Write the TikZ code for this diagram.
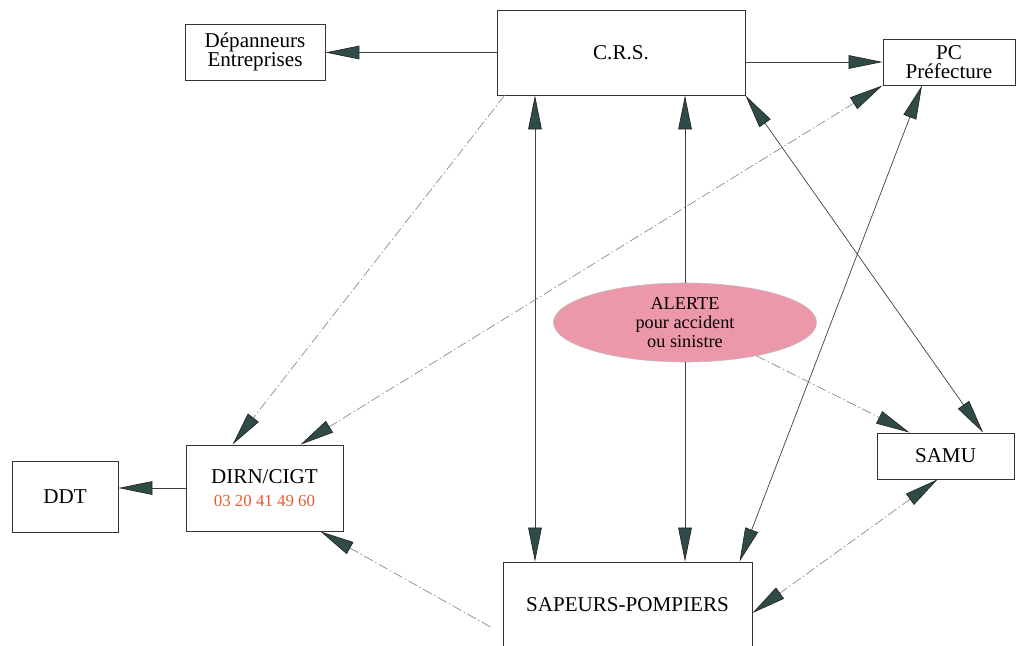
\documentclass[tikz,border=0pt]{standalone}
\usepackage{fontspec}
\setmainfont{Liberation Serif}
\usetikzlibrary{
    arrows.meta,
    shapes.geometric,
    calc
}
\definecolor{tipgreen}{RGB}{47,75,71}
\definecolor{alertpink}{RGB}{237,152,170}
\definecolor{telred}{RGB}{235,90,50}

\begin{document}
\begin{tikzpicture}[x=0.025cm, y=0.025cm,
    >={Triangle[length=8.5mm, width=3.4mm, color=black!85, fill=tipgreen]},
    box/.style={draw=black!80, line width=0.6pt, align=center, inner sep=0pt,
        font=\fontsize{15}{14}\selectfont},
    solidline/.style={draw=black!75, line width=0.5pt},
    dotline/.style={draw=black!45, line width=0.5pt,
        dash pattern=on 7pt off 2pt on 1pt off 2pt}]
                        \clip (0, 0) rectangle (1016, -645);
                        \node[box, minimum width=3.5cm, minimum height=1.4cm] (dep) at (255, -52) {Dépanneurs\\Entreprises};
                        \node[box, minimum width=6.2cm, minimum height=2.125cm] (crs) at (621, -52.5) {C.R.S.};
                        \node[box, minimum width=3.3cm, minimum height=1.15cm] (pc) at (949, -62) {PC\\Préfecture};
                        \node[box, minimum width=2.65cm, minimum height=1.775cm] (ddt) at (65, -496.5) {DDT};
                        \node[box, minimum width=3.925cm, minimum height=2.15cm] (dirn) at (264.5, -488) {DIRN/CIGT\\[2pt]{\color{telred}\fontsize{12}{12}\selectfont 03 20 41 49 60}};
                        \node[box, minimum width=3.425cm, minimum height=1.15cm] (samu) at (945.5, -456) {SAMU};
                        \node[box, minimum width=6.225cm, minimum height=2.15cm] (pomp) at (627.5, -605) {SAPEURS-POMPIERS};
                        \node[ellipse, draw=black!25, fill=alertpink, inner sep=0pt, align=center,
                            minimum width=6.575cm, minimum height=1.975cm,
                            font=\fontsize{13}{13.5}\selectfont] (alerte) at (685, -322.5) {ALERTE\\pour accident\\ou sinistre};
                        % solid links
                        \draw[solidline, ->] (crs.west) -- (crs.west -| dep.east);
                        \draw[solidline, ->] (crs.east |- pc.west) -- (pc.west);
                        \draw[solidline, <->] ([xshift=-2.15cm]crs.south) -- ([xshift=-2.15cm]crs.south |- pomp.north);
                        \draw[solidline, ->] (alerte.north) -- (alerte.north |- crs.south);
                        \draw[solidline, ->] (alerte.south) -- (alerte.south |- pomp.north);
                        \draw[solidline, <->] (crs.south east) -- ([xshift=0.94cm]samu.north);
                        \draw[solidline, <->] ([xshift=-0.675cm]pc.south) -- ([xshift=2.8cm]pomp.north);
                        \draw[solidline, ->] (dirn.west) -- (dirn.west -| ddt.east);
                        % dotted links
                        \draw[dotline, ->] ([xshift=0.2cm]crs.south west) -- ([xshift=-0.8cm]dirn.north);
                        \draw[dotline, <->] (pc.south west) -- ([xshift=0.9cm]dirn.north);
                        \draw[dotline, ->] (alerte.-25) -- ([xshift=-0.9cm]samu.north);
                        \draw[dotline, <->] ([xshift=-0.2cm]samu.south) -- ([yshift=-0.2cm]pomp.east);
                        \draw[dotline, ->] ([xshift=-0.3cm, yshift=-0.55cm]pomp.west) -- ([xshift=-0.575cm]dirn.south east);
                    \end{tikzpicture}
\end{document}
